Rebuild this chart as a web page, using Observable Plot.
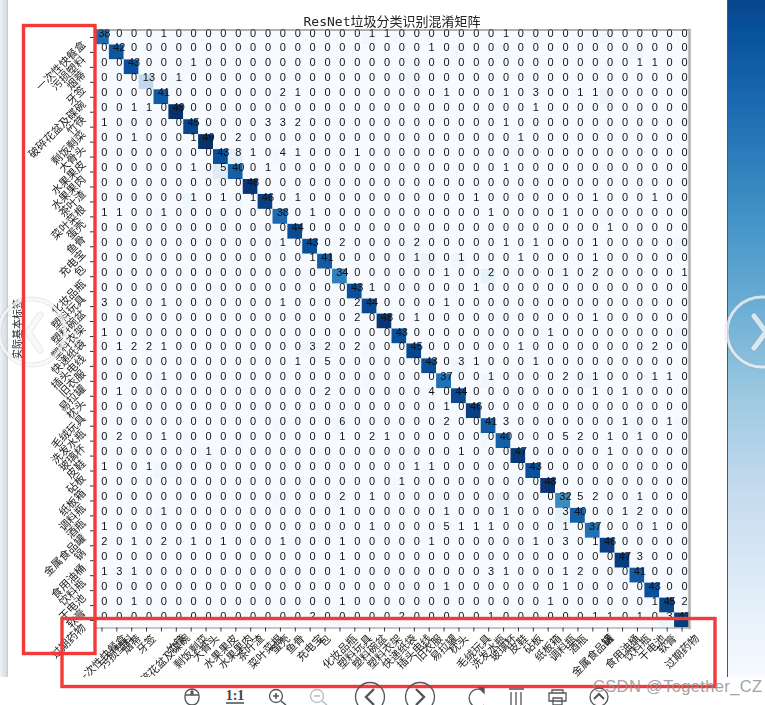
<!DOCTYPE html>
<html><head><meta charset="utf-8">
<script src="https://cdn.jsdelivr.net/npm/d3@7"></script>
<script src="https://cdn.jsdelivr.net/npm/@observablehq/plot@0.6"></script>
<style>
html,body{margin:0;padding:0;background:#fff}
#page{position:relative;width:765px;height:705px;overflow:hidden;background:#fff}
#page>*{position:absolute}
#chart svg,#bar svg{display:block;background:transparent}
#chart{filter:blur(.4px)}
</style></head><body><div id="page">
<div id="chart" style="left:0;top:0"></div>
<div style="left:0;top:0;width:8px;height:677px;background:linear-gradient(90deg,#f1f3f6,#d3dae2 85%,#b9c2cc)"></div>
<div style="left:0;top:677px;width:765px;height:28px;background:#fff"></div>
<div id="bar" style="left:728px;top:0"></div>
<div style="left:727px;top:0;width:1px;height:677px;background:#555"></div>
<svg id="over" width="765" height="705" style="left:0;top:0"></svg>
</div>
<script>
const labels = ["一次性快餐盒","污损塑料","烟蒂","牙签","破碎花盆及碟碗","竹筷","剩饭剩菜","大骨头","水果果皮","水果果肉","茶叶渣","菜叶菜根","蛋壳","鱼骨","充电宝","包","化妆品瓶","塑料玩具","塑料碗盆","塑料衣架","快递纸袋","插头电线","旧衣服","易拉罐","枕头","毛绒玩具","洗发水瓶","玻璃杯","皮鞋","砧板","纸板箱","调料瓶","酒瓶","金属食品罐","锅","食用油桶","饮料瓶","干电池","软膏","过期药物"];
const diagonal = [38,42,43,13,41,49,45,49,43,40,48,46,38,44,43,41,34,43,44,48,43,45,43,37,44,46,41,40,47,43,48,32,40,37,46,47,41,43,45,47];
// printed off-diagonal counts: [row, column, count]
const offDiagonal = [
[0,4,1],[0,18,1],[0,19,1],[0,27,1],
[1,22,1],
[2,6,1],[2,36,1],[2,37,1],
[3,5,1],
[4,12,2],[4,13,1],[4,23,1],[4,27,1],[4,29,3],[4,32,1],[4,33,1],
[5,2,1],[5,3,1],[5,29,1],
[6,0,1],[6,11,3],[6,12,3],[6,13,2],[6,27,1],
[7,2,1],[7,6,1],[7,9,2],[7,28,1],
[8,9,8],[8,10,1],[8,12,4],[8,13,1],[8,17,1],
[9,6,1],[9,8,5],[9,11,1],[9,27,1],
[11,6,1],[11,8,1],[11,10,1],[11,13,1],[11,25,1],[11,33,1],[11,37,1],
[12,0,1],[12,1,1],[12,4,1],[12,14,1],[12,26,1],[12,31,1],
[13,34,1],
[14,12,1],[14,16,2],[14,21,2],[14,27,1],[14,29,1],[14,33,1],
[15,14,1],[15,21,1],[15,24,1],[15,28,1],[15,33,1],
[16,23,1],[16,26,2],[16,31,1],[16,33,2],[16,39,1],
[17,18,1],[17,25,1],
[18,0,3],[18,4,1],[18,12,1],[18,17,2],[18,23,1],
[19,17,2],[19,21,1],[19,33,1],
[20,0,1],[20,30,1],
[21,1,1],[21,2,2],[21,3,2],[21,4,1],[21,14,3],[21,15,2],[21,17,2],[21,28,1],[21,37,2],
[22,13,1],[22,15,5],[22,24,3],[22,25,1],[22,29,1],
[23,4,1],[23,26,1],[23,31,2],[23,33,1],[23,37,1],[23,38,1],
[24,1,1],[24,15,2],[24,22,4],[24,33,1],[24,35,1],
[25,23,1],
[26,16,6],[26,23,2],[26,27,3],[26,35,1],[26,38,1],
[27,1,2],[27,4,1],[27,16,1],[27,18,2],[27,19,1],[27,31,5],[27,32,2],[27,34,1],[27,36,1],
[28,7,1],[28,24,1],[28,34,1],
[29,0,1],[29,3,1],[29,21,1],[29,22,1],
[30,20,1],
[31,16,2],[31,18,1],[31,32,5],[31,33,2],[31,36,1],
[32,4,1],[32,16,1],[32,23,1],[32,27,1],[32,31,3],[32,35,1],[32,36,2],
[33,0,1],[33,18,1],[33,23,5],[33,24,1],[33,25,1],[33,26,1],[33,31,1],[33,37,1],
[34,0,2],[34,2,1],[34,4,2],[34,6,1],[34,8,1],[34,12,1],[34,16,1],[34,22,1],[34,29,1],[34,31,3],[34,33,1],
[35,16,1],[35,36,3],
[36,0,1],[36,1,3],[36,2,1],[36,16,1],[36,26,3],[36,27,1],[36,31,1],[36,32,2],
[37,23,1],[37,31,1],
[38,2,1],[38,16,1],[38,30,1],[38,37,1],[38,39,2],
[39,14,2],[39,20,2],[39,26,1],[39,33,1],[39,34,1],[39,36,1],[39,38,3]
];
// tint of the off-diagonal squares as seen in the heat map: [row, column, level]
const tinted = [
[0,6,1],[0,18,2],[0,20,1],[0,29,1],[0,33,1],[0,34,2],
[1,24,1],[1,27,2],[1,36,2],
[2,6,1],[2,7,1],[2,21,2],[2,34,1],
[3,5,1],[3,21,2],[3,29,1],
[4,0,1],[4,12,1],[4,23,1],[4,27,1],[4,32,1],[4,34,3],
[5,3,1],[6,2,1],[6,34,1],[7,28,1],
[8,9,5],[8,12,1],[9,7,1],[9,8,6],[10,8,1],[9,34,1],
[11,6,2],[11,9,1],
[12,4,1],[12,6,1],[12,8,2],[12,34,1],
[13,6,1],[13,11,1],[13,22,1],
[14,12,1],[14,21,2],[14,39,2],
[15,21,1],[15,22,3],[15,24,2],
[16,14,1],[16,26,4],[16,31,2],[16,33,1],
[17,8,1],[17,18,1],[17,21,1],
[18,0,1],[18,17,1],[18,27,1],[18,31,1],[18,33,1],[19,27,1],
[20,30,1],[20,39,2],
[21,14,2],[21,15,1],[21,18,1],[21,29,1],
[22,1,1],[22,24,2],
[23,4,1],[23,18,1],[23,26,2],[23,32,1],[23,33,3],[23,37,1],
[24,15,1],[24,22,1],[24,28,1],
[25,11,1],[25,17,1],[25,33,1],
[26,12,1],[26,16,2],[26,23,1],[26,36,2],[26,39,1],
[27,0,1],[27,6,1],[27,9,1],[27,26,1],[27,32,1],
[28,7,1],[28,15,1],[28,21,1],
[29,4,2],[29,5,1],[29,22,1],
[30,14,1],[30,20,1],
[31,12,1],[31,16,1],[31,23,1],[31,27,3],[31,36,1],
[32,4,1],[32,27,1],[32,31,4],[32,36,1],
[33,15,1],[33,16,1],[33,19,1],[33,23,1],[33,31,2],
[34,13,1],[34,28,1],
[36,2,1],[36,32,1],[36,35,1],
[37,2,1],[37,11,1],[37,21,2],[37,23,1],[37,33,1],
[38,23,1],
[39,16,1],[39,38,2]
];
const blues = ["#f7fbff","#deebf7","#c6dbef","#9ecae1","#6baed6","#4292c6","#2171b5","#08519c","#08306b"];
const maxCount = 49;
const title = "ResNet垃圾分类识别混淆矩阵";
const yTitle = "实际基本标签";
const cjk = '"Noto Sans CJK SC","Noto Sans",sans-serif';
const textMap = new Map(offDiagonal.map(([r,c,v])=>[r+"|"+c,v]));
const shadeMap = new Map(tinted.map(([r,c,v])=>[r+"|"+c,v]));
const grid = [];
labels.forEach((rl,r)=>labels.forEach((cl,c)=>{
  const k = r+"|"+c;
  grid.push({row:rl,col:cl,
    count: r===c ? diagonal[r] : (textMap.get(k)||0),
    shade: r===c ? diagonal[r] : (shadeMap.get(k)||0)});
}));
const colorDomain = blues.map((_,i)=>i*maxCount/(blues.length-1));
const tickFont = {fontSize:10.8,fill:"#1a1a1a",rotate:-45,textAnchor:"middle",lineAnchor:"middle"};
const xLabelMarks = d3.groups(labels,d=>d.length).map(([n,ls])=>
  Plot.text(ls,{x:d=>d,text:d=>d,frameAnchor:"bottom",dy:9.1+3.7*n,...tickFont}));
const chart = Plot.plot({
  width:765,height:705,
  marginLeft:94,marginRight:76,marginTop:29.5,marginBottom:77.5,
  style:{fontFamily:cjk,background:"transparent",overflow:"visible"},
  x:{type:"band",domain:labels,padding:0,round:false,label:null},
  y:{type:"band",domain:labels,padding:0,round:false,label:null},
  color:{type:"linear",domain:colorDomain,range:blues},
  marks:[
    Plot.cell(grid,{x:"col",y:"row",fill:"shade",inset:0}),
    Plot.text(grid,{x:"col",y:"row",text:"count",dx:2.4,dy:-4.5,fill:"#111",fontSize:11,fontFamily:"'Liberation Sans',sans-serif"}),
    Plot.frame({anchor:"top",stroke:"#666"}),
    Plot.frame({anchor:"bottom",stroke:"#b5b5b5",strokeWidth:1.5}),
    Plot.frame({anchor:"right",stroke:"#b0b0b0",strokeWidth:2.5}),
    Plot.axisX({anchor:"bottom",tickSize:4,tickFormat:()=>"",stroke:"#333",label:null}),
    Plot.axisY({anchor:"left",tickSize:4,tickFormat:()=>"",stroke:"#333",label:null}),
    ...xLabelMarks,
    Plot.text(labels,{y:d=>d,text:d=>d,frameAnchor:"left",dx:-10.6,dy:5.5,...tickFont,textAnchor:"end"}),
    Plot.text([title],{frameAnchor:"top",dy:-8.5,lineAnchor:"middle",fontSize:13,fill:"#222",fontFamily:"'DejaVu Sans Mono','Noto Sans CJK SC',monospace"}),
    Plot.text([yTitle],{frameAnchor:"left",dx:-77,rotate:-90,textAnchor:"middle",fontSize:10,fill:"#222"})
  ]
});
document.getElementById("chart").appendChild(chart);

// colour bar at the right edge, from the same colour ramp
const barLevels = d3.range(0,180).map(i=>i/4);
const bar = Plot.plot({
  width:37,height:677,margin:0,
  x:{axis:null},
  y:{type:"band",domain:barLevels.slice().reverse(),padding:0,round:false,axis:null},
  color:{type:"linear",domain:colorDomain,range:blues},
  marks:[Plot.cell(barLevels,{y:d=>d,fill:d=>d,inset:-0.5})]
});
document.getElementById("bar").appendChild(bar);

// screenshot furniture drawn on top: nav rings, annotation boxes, viewer toolbar, watermark
const ic = "fill='none' stroke='#555' stroke-width='1.3'";
const ringL = "M40 315 L28 332 L40 350", ringR = "M754 316 L766 332 L754 348";
document.getElementById("over").innerHTML = `
<g fill="none" stroke="#9a9a9a" stroke-opacity=".22">
 <circle cx="32" cy="332" r="33" stroke-width="5"/>
 <path d="${ringL}" stroke-width="7" stroke-linecap="round" stroke-linejoin="round"/>
 <circle cx="762" cy="332" r="35" stroke-width="5"/>
 <path d="${ringR}" stroke-width="7" stroke-linecap="round" stroke-linejoin="round"/>
</g>
<g fill="none" stroke="#fff" stroke-opacity=".7">
 <circle cx="32" cy="332" r="33" stroke-width="3"/>
 <path d="${ringL}" stroke-width="5" stroke-linecap="round" stroke-linejoin="round"/>
 <circle cx="762" cy="332" r="35" stroke-width="3"/>
 <path d="${ringR}" stroke-width="5" stroke-linecap="round" stroke-linejoin="round"/>
</g>
<g fill="none" stroke="#f23a3a" stroke-width="3.4">
 <rect x="23.5" y="25.5" width="71.5" height="628"/>
 <rect x="62" y="618.5" width="653" height="68"/>
</g>
<g ${ic}>
 <rect x="185" y="689" width="14" height="16" rx="7"/><path d="M185 695H199M192 689V695"/><rect x="190.5" y="691" width="3" height="4" fill="#555" stroke="none"/>
 <path d="M226 703H244" stroke-width="1.6"/>
 <circle cx="276" cy="696" r="6.5"/><path d="M281 701L286 705M273 696H279M276 693V699" stroke-width="1.6"/>
 <g stroke="#bbb"><circle cx="317" cy="696" r="6.5"/><path d="M322 701L327 705M314 696H320" stroke-width="1.6"/></g>
 <circle cx="370" cy="697" r="14.5"/><path d="M374 689L366 697L374 705" stroke-width="2.4"/>
 <circle cx="420" cy="697" r="14.5"/><path d="M416 689L424 697L416 705" stroke-width="2.4"/>
 <path d="M482 690A9 9 0 1 0 484 705"/><path d="M479 688H484V693Z" fill="#555"/>
 <path d="M509 689H524M511 692V705M516 692V705M521 692V705"/>
 <path d="M552 693V690H563V693M549 693H566V701H549ZM553 698H562V705H553Z"/>
 <circle cx="599" cy="697" r="9"/><path d="M594 699L599 694L604 699" stroke-width="2"/>
</g>
<text x="235" y="700" text-anchor="middle" font-family="'Liberation Serif',serif" font-weight="700" font-size="14" fill="#444">1:1</text>
<text x="593" y="692" font-family="'Liberation Sans',sans-serif" font-size="16.5" fill="#8a8a8a" fill-opacity=".8" letter-spacing=".35">CSDN @Together_CZ</text>
`;
</script>
</body></html>
